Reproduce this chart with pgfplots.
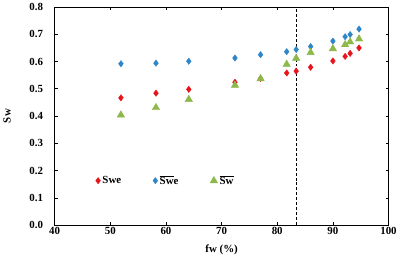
\documentclass[border=0pt]{standalone}
\usepackage{pgfplots}
\pgfplotsset{compat=1.18}
\usepackage{fontspec}
\setmainfont{Liberation Serif}
\definecolor{cred}{HTML}{E8141C}
\definecolor{cblue}{HTML}{2E86C8}
\definecolor{cgreen}{HTML}{8DB84A}
\begin{document}
\begin{tikzpicture}
\begin{axis}[
  scale only axis,
  width=336.7pt, height=220pt,
  xmin=40, xmax=100, ymin=0, ymax=0.8,
  xtick={40,50,...,100},
  ytick={0,0.1,...,0.8},
  yticklabel style={xshift=-8.3pt, /pgf/number format/fixed, /pgf/number format/fixed zerofill, /pgf/number format/precision=1},
  /pgf/number format/assume math mode=true,
  tick align=inside,
  major tick length=3pt,
  tick style={black, line width=0.6pt},
  axis line style={black, line width=0.8pt},
  ticklabel style={font=\fontsize{11}{13}\selectfont\bfseries},
  xticklabel style={yshift=1pt},
  label style={font=\fontsize{11}{13}\selectfont\bfseries},
  xlabel={fw (\%)},
  ylabel={Sw},
  xlabel style={yshift=-3pt},
  ylabel style={yshift=12pt},
  legend style={draw=none, fill=none, at={(axis cs:46.8,0.163)}, anchor=west,
    font=\fontsize{11}{13}\selectfont\bfseries,
    /tikz/every even column/.append style={column sep=30pt}},
  legend columns=3,
  legend image code/.code={\draw[#1] plot coordinates {(0.2cm,0cm)};},
]
\addplot[only marks, mark=diamond*, mark size=3.2pt, color=cred, mark options={fill=cred, draw=cred}] coordinates {
(51.9,0.467) (58.2,0.484) (64.1,0.498) (72.4,0.524) (77.0,0.538) (81.7,0.558)
(83.4,0.565) (86.0,0.579) (90.0,0.602) (92.2,0.619) (93.1,0.630) (94.7,0.650)};
\addlegendentry{Swe}
\addplot[only marks, mark=diamond*, mark size=3.2pt, color=cblue, mark options={fill=cblue, draw=cblue}] coordinates {
(51.9,0.592) (58.2,0.594) (64.1,0.601) (72.4,0.613) (77.0,0.625) (81.7,0.636)
(83.4,0.644) (86.0,0.655) (90.0,0.675) (92.2,0.691) (93.1,0.699) (94.7,0.719)};
\addlegendentry{$\overline{\mbox{Sw}}$e}
\addplot[only marks, mark=triangle*, mark size=4.3pt, color=cgreen, mark options={fill=cgreen, draw=cgreen}] coordinates {
(51.9,0.404) (58.2,0.431) (64.1,0.461) (72.4,0.513) (77.0,0.537) (81.7,0.590)
(83.4,0.612) (86.0,0.633) (90.0,0.647) (92.2,0.662) (93.1,0.672) (94.7,0.683)};
\addlegendentry{$\overline{\mbox{Sw}}$}
\addplot[black, dashed, line width=0.9pt, dash pattern=on 3pt off 2pt, forget plot] coordinates {(83.4,0) (83.4,0.8)};
\end{axis}
\end{tikzpicture}
\end{document}
